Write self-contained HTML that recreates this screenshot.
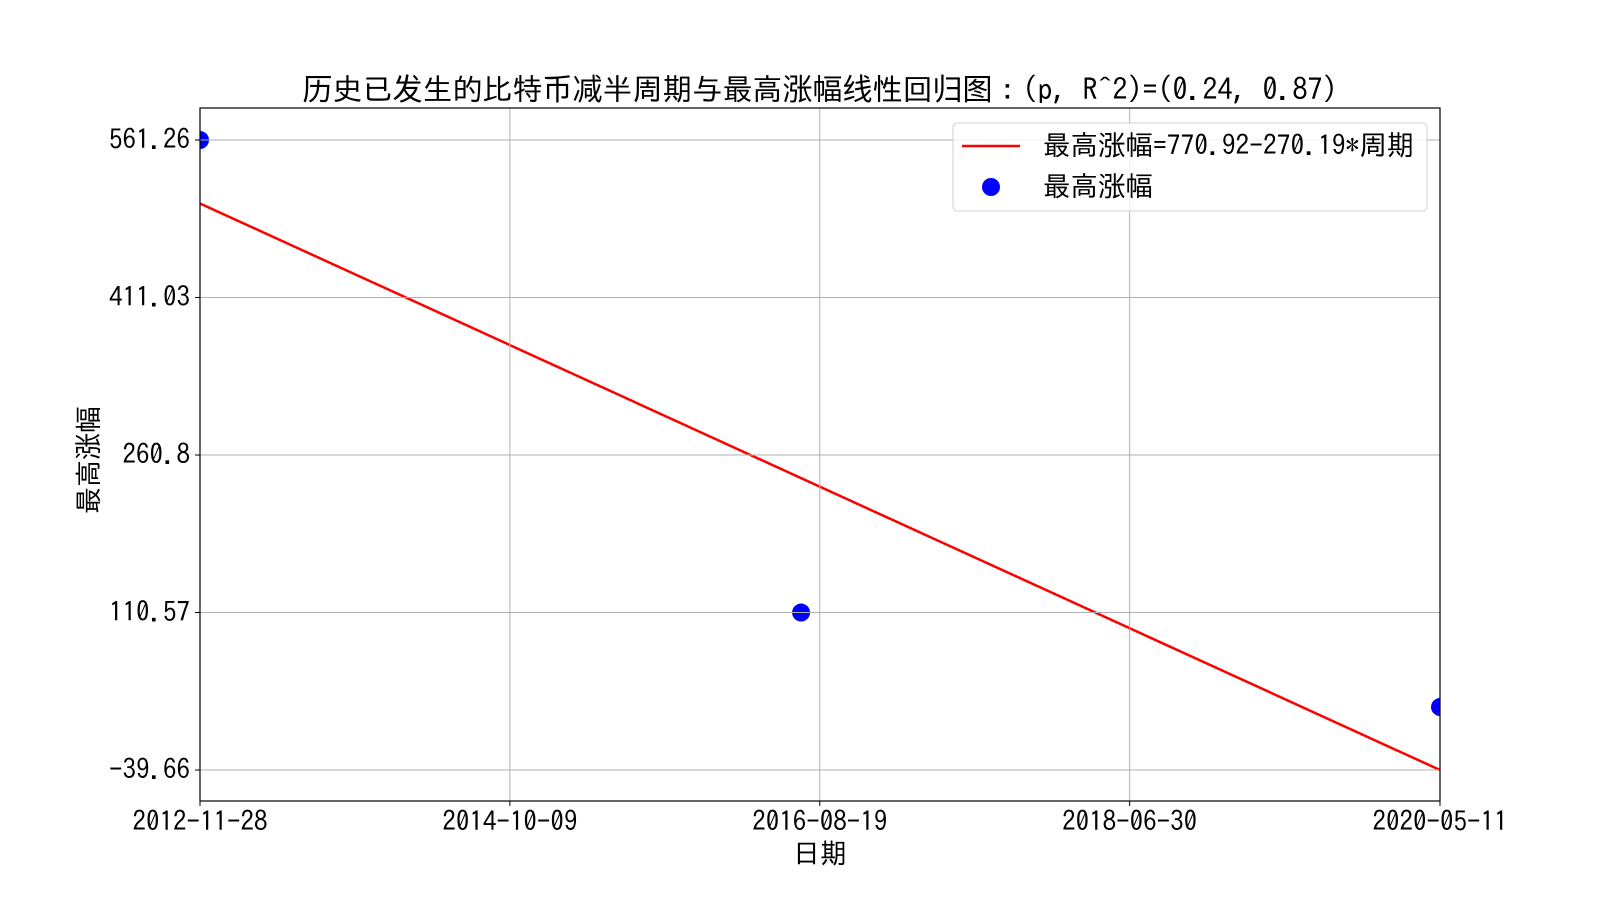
<!DOCTYPE html>
<html><head><meta charset="utf-8"><style>
body{margin:0;background:#fff}
svg text{font-family:"IPAGothic","WenQuanYi Zen Hei",sans-serif;fill:#000}
</style></head><body>
<svg id="c" width="1600" height="900" xmlns="http://www.w3.org/2000/svg"></svg>
<script>
const dates=["2012-11-28","2016-07-09","2020-05-11"];
const gains=[561.26,110.57,20.45];
const fitStart=500.73;
const fitEnd=-39.65;
const yTicks=[561.26,411.03,260.8,110.57,-39.66];
const xTickLabels=["2012-11-28","2014-10-09","2016-08-19","2018-06-30","2020-05-11"];
const L=200,R=1440,T=108,B=801;
const d0=Date.parse("2012-11-28"),d1=Date.parse("2020-05-11");
const yMin=-69.2,yMax=591.8;
const xs=d=>L+(Date.parse(d)-d0)/(d1-d0)*(R-L);
const ys=v=>B-(v-yMin)/(yMax-yMin)*(B-T);
const svg=document.getElementById('c');const NS="http://www.w3.org/2000/svg";
function mk(t,a,txt){const e=document.createElementNS(NS,t);for(const k in a)e.setAttribute(k,a[k]);if(txt!=null)e.textContent=txt;svg.appendChild(e);return e;}
let e;
const defs=mk('defs',{});
const cp=document.createElementNS(NS,'clipPath');cp.setAttribute('id','pc');
const cr=document.createElementNS(NS,'rect');cr.setAttribute('x',L);cr.setAttribute('y',T);cr.setAttribute('width',R-L);cr.setAttribute('height',B-T);
cp.appendChild(cr);defs.appendChild(cp);
e=mk('text',{x:820,y:100,'font-size':30,'text-anchor':'middle'},'历史已发生的比特币减半周期与最高涨幅线性回归图：(p, R^2)=(0.24, 0.87)');


e=mk('line',{x1:xs(dates[0]),y1:ys(fitStart),x2:xs(dates[2]),y2:ys(fitEnd),stroke:'#ff0000','stroke-width':2.5,'clip-path':'url(#pc)'});


gains.forEach((v,i)=>{const c=mk('circle',{cx:xs(dates[i]),cy:ys(v),r:9,fill:'#0000ff','clip-path':'url(#pc)'});

});
xTickLabels.forEach(d=>{const x=xs(d);
const g=mk('line',{x1:x,y1:T,x2:x,y2:B,stroke:'#b0b0b0','stroke-width':1});


mk('line',{x1:x,y1:B,x2:x,y2:B+5,stroke:'#000'});
const t=mk('text',{x:x,y:831,'font-size':27,'text-anchor':'middle'},d);

});
yTicks.forEach(v=>{const y=ys(v);
const g=mk('line',{x1:L,y1:y,x2:R,y2:y,stroke:'#b0b0b0','stroke-width':1});


mk('line',{x1:L-5,y1:y,x2:L,y2:y,stroke:'#000'});
const t=mk('text',{x:L-10,y:y+9,'font-size':27,'text-anchor':'end'},String(v));

});
e=mk('rect',{x:L,y:T,width:R-L,height:B-T,fill:'none',stroke:'#000','stroke-width':1.2});


e=mk('text',{x:820,y:863,'font-size':27,'text-anchor':'middle'},'日期');


e=mk('text',{x:0,y:0,'font-size':27,'text-anchor':'middle',transform:'translate(98,460) rotate(-90)'},'最高涨幅');


e=mk('rect',{x:953,y:123,width:474,height:88,rx:4,fill:'#fff','fill-opacity':0.8,stroke:'#d0d0d0'});


mk('line',{x1:962,y1:146,x2:1020,y2:146,stroke:'#ff0000','stroke-width':2.5});
e=mk('text',{x:1043,y:155,'font-size':27.5},'最高涨幅=770.92-270.19*周期');


mk('circle',{cx:991,cy:187,r:9,fill:'#0000ff'});
e=mk('text',{x:1043,y:196,'font-size':27.5},'最高涨幅');


</script>
</body></html>
